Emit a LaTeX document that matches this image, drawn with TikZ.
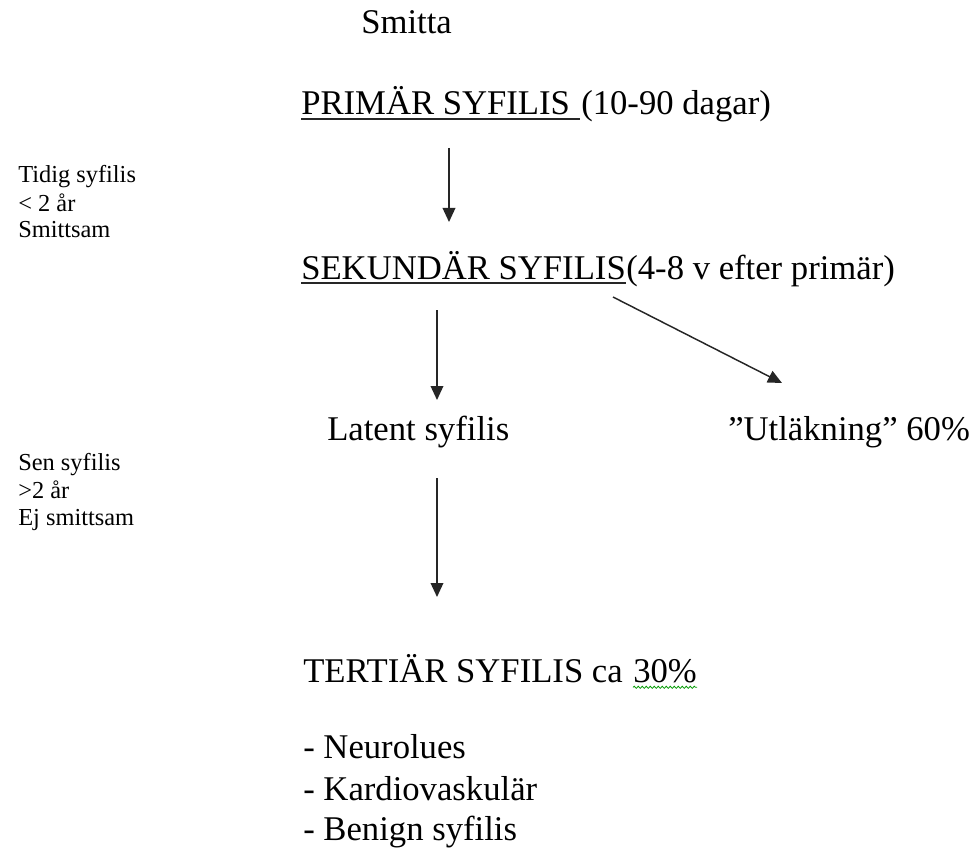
\documentclass[tikz,border=0pt]{standalone}
\usepackage{fontspec}
\setmainfont{Liberation Serif}
\usetikzlibrary{arrows.meta,decorations.pathmorphing}
\begin{document}
\begin{tikzpicture}[x=0.75pt,y=-0.75pt,
  txt/.style={anchor=base west, inner sep=0pt, font=\fontsize{26}{30}\selectfont},
  side/.style={anchor=base west, inner sep=0pt, font=\fontsize{18.3}{22}\selectfont},
  arr/.style={-{Triangle[length=10.5pt,width=9.5pt]}, line width=1.1pt, draw=black!85},
  ul/.style={line width=1.1pt, draw=black!85},
  wavy/.style={draw=green!60!black, line width=0.6pt, decorate,
    decoration={snake, segment length=3pt, amplitude=0.8pt}}]
\useasboundingbox (0,0) rectangle (976,849);
% main texts
\node[txt] (smitta) at (361,34) {Smitta};
\node[txt] (prim) at (301,115) {PRIMÄR SYFILIS};
\node[txt] (primd) at (581,115) {(10-90 dagar)};
\draw[ul] ([yshift=-3pt]prim.base west) -- ++(279,0);
\node[txt] (sek) at (301,279) {SEKUNDÄR SYFILIS};
\node[txt] (sekd) at (sek.base east) {(4-8 v efter primär)};
\draw[ul] ([yshift=-3pt]sek.base west) -- ([yshift=-3pt]sek.base east);
\node[txt] (lat) at (327,440) {Latent syfilis};
\node[txt] (utl) at (728,440) {”Utläkning” 60\%};
\node[txt] (tert) at (303,682) {TERTIÄR SYFILIS ca};
\node[txt] (pct) at (633,682) {30\%};
\draw[wavy] ([yshift=-4pt]pct.base west) -- ([yshift=-4pt]pct.base east);
\node[txt] (n1) at (303,758) {- Neurolues};
\node[txt] (n2) at (303,800) {- Kardiovaskulär};
\node[txt] (n3) at (303,840) {- Benign syfilis};
% side labels
\node[side] (t1) at (18,183) {Tidig syfilis};
\node[side] (t2) at (18,211) {< 2 år};
\node[side] (t3) at (18,238) {Smittsam};
\node[side] (s1) at (18,470) {Sen syfilis};
\node[side] (s2) at (18,498) {>2 år};
\node[side] (s3) at (18,525) {Ej smittsam};
% arrows
\coordinate (a1s) at (449,148); \coordinate (a1e) at (449,222);
\coordinate (a2s) at (437,310); \coordinate (a2e) at (437,400);
\coordinate (a3s) at (613,297); \coordinate (a3e) at (782,383);
\coordinate (a4s) at (437,478); \coordinate (a4e) at (437,597);
\draw[arr] (a1s) -- (a1e);
\draw[arr] (a2s) -- (a2e);
\draw[arr] (a3s) -- (a3e);
\draw[arr] (a4s) -- (a4e);
\end{tikzpicture}
\end{document}
